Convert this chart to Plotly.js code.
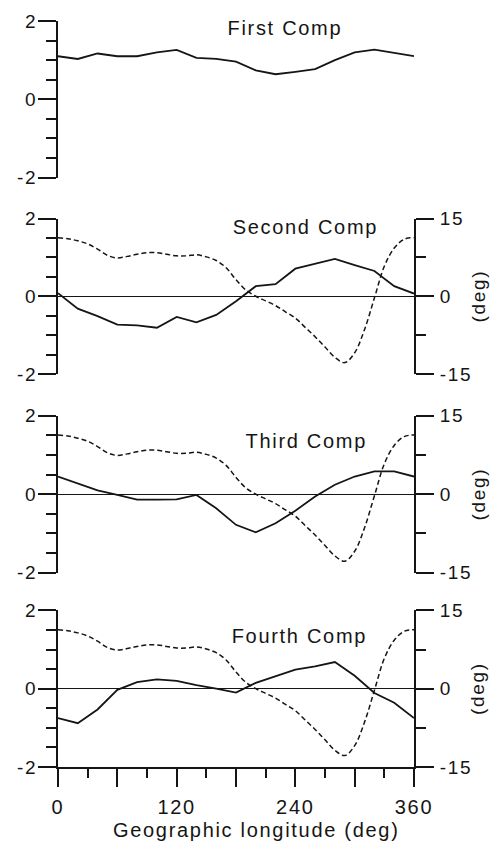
<!DOCTYPE html>
<html>
<head>
<meta charset="utf-8">
<script src="https://cdn.plot.ly/plotly-3.0.1.min.js"></script>
<style>
  html, body { margin: 0; padding: 0; background: #fff; }
  #chart { width: 490px; height: 848px; }
  #chart svg text { letter-spacing: 1.7px; }
</style>
</head>
<body>
<div id="chart"></div>
<script>
// Longitude grid of the component curves (deg)
const lon = [0, 20, 40, 60, 80, 100, 120, 140, 160, 180, 200, 220, 240, 260, 280, 300, 320, 340, 360];

// Component amplitudes (left axis)
const comp1 = [1.10, 1.03, 1.17, 1.10, 1.10, 1.20, 1.26, 1.06, 1.03, 0.96, 0.74, 0.64, 0.70, 0.77, 1.00, 1.20, 1.27, 1.18, 1.10];
const comp2 = [0.08, -0.32, -0.51, -0.73, -0.75, -0.81, -0.53, -0.67, -0.48, -0.13, 0.26, 0.31, 0.71, 0.84, 0.96, 0.80, 0.65, 0.26, 0.07];
const comp3 = [0.45, 0.28, 0.10, -0.02, -0.14, -0.14, -0.13, -0.02, -0.36, -0.78, -0.97, -0.74, -0.42, -0.06, 0.24, 0.45, 0.58, 0.58, 0.45];
const comp4 = [-0.75, -0.88, -0.53, -0.03, 0.17, 0.24, 0.20, 0.09, 0.00, -0.10, 0.15, 0.32, 0.49, 0.57, 0.68, 0.33, -0.11, -0.36, -0.75];

// Reference angle curve (right axis, deg) on a 10-degree grid
const lonFine = [0, 10, 20, 30, 40, 50, 60, 70, 80, 90, 100, 110, 120, 130, 140, 150, 160, 170, 180,
                 190, 200, 210, 220, 230, 240, 250, 260, 270, 280, 290, 300, 310, 320, 330, 340, 350, 360];
const angleDeg = [11.3, 11.1, 10.7, 10.1, 9.1, 7.9, 7.4, 7.7, 8.1, 8.4, 8.4, 8.1, 7.8, 7.8, 8.0, 7.6, 6.9, 5.5, 3.2,
                  1.2, 0.0, -0.9, -1.8, -3.0, -4.2, -6.0, -7.8, -9.8, -11.8, -12.8, -10.9, -6.4, -0.3, 5.8, 9.3, 11.0, 11.3];

// Tick labels
const panelTitles = ['First Comp', 'Second Comp', 'Third Comp', 'Fourth Comp'];
const xTickVals = [0, 60, 120, 180, 240, 300, 360];
const xTickText = ['0', '', '120', '', '240', '', '360'];
const xMinorVals = [30, 90, 150, 210, 270, 330];
const leftTickVals = [-2, 0, 2];
const leftTickText = ['-2', '0', '2'];
const rightTickVals = [-15, 0, 15];
const rightTickText = ['-15', '0', '15'];

const ink = '#151515';

const solid = (y, ya) => ({
  x: lon, y: y, xaxis: 'x', yaxis: ya, type: 'scatter', mode: 'lines',
  line: {color: ink, width: 1.8}, hoverinfo: 'skip'
});
const dashed = (ya) => ({
  x: lonFine, y: angleDeg, xaxis: 'x', yaxis: ya, type: 'scatter', mode: 'lines',
  line: {color: ink, width: 1.5, dash: '5px,3px', shape: 'spline', smoothing: 1}, hoverinfo: 'skip'
});

const data = [
  solid(comp1, 'y'),
  dashed('y5'), solid(comp2, 'y2'),
  dashed('y6'), solid(comp3, 'y3'),
  dashed('y7'), solid(comp4, 'y4')
];

const leftAxis = (domain, zero) => ({
  domain: domain, range: [-2, 2], anchor: 'x', side: 'left',
  tickmode: 'array', tickvals: leftTickVals, ticktext: leftTickText,
  ticks: 'outside', ticklen: 18, tickwidth: 2, tickcolor: ink,
  showline: true, linewidth: 2, linecolor: ink,
  minor: {tickmode: 'linear', tick0: 0, dtick: 0.5, ticks: 'outside', ticklen: 10, tickwidth: 2, tickcolor: ink},
  showgrid: false, zeroline: zero, zerolinecolor: ink, zerolinewidth: 1.3,
  ticklabelstandoff: -3, tickfont: {size: 19}
});
const rightAxis = (over) => ({
  overlaying: over, side: 'right', anchor: 'x', range: [-15, 15],
  tickmode: 'array', tickvals: rightTickVals, ticktext: rightTickText,
  ticks: 'outside', ticklen: 18, tickwidth: 2, tickcolor: ink,
  showline: true, linewidth: 2, linecolor: ink,
  minor: {tickmode: 'linear', tick0: 0, dtick: 7.5, ticks: 'outside', ticklen: 10, tickwidth: 2, tickcolor: ink},
  showgrid: false, zeroline: false,
  ticklabelstandoff: 2, tickfont: {size: 19}
});

const titleAnn = (text, x, y, yref) => ({
  text: text, x: x, y: y, xref: 'x', yref: yref, showarrow: false,
  xanchor: 'center', yanchor: 'middle', font: {size: 20, color: ink}
});
const degAnn = (yref) => ({
  text: '(deg)', x: 1.18, y: 0, xref: 'paper', yref: yref, showarrow: false,
  textangle: -90, xanchor: 'center', yanchor: 'middle', font: {size: 19, color: ink}
});

const layout = {
  width: 490, height: 848,
  margin: {l: 57.5, r: 75.5, t: 20.5, b: 80.5, pad: 0},
  paper_bgcolor: '#fff', plot_bgcolor: '#fff',
  showlegend: false,
  font: {family: '"Liberation Sans", Arial, Helvetica, sans-serif', size: 19, color: ink},
  xaxis: {
    domain: [0, 1], range: [0, 360], anchor: 'y4',
    tickmode: 'array', tickvals: xTickVals, ticktext: xTickText,
    ticks: 'outside', ticklen: 18, tickwidth: 2, tickcolor: ink,
    showline: true, linewidth: 2, linecolor: ink,
    minor: {tickmode: 'array', tickvals: xMinorVals, ticks: 'outside', ticklen: 9, tickwidth: 2, tickcolor: ink},
    showgrid: false, zeroline: false,
    ticklabelstandoff: 3, tickfont: {size: 20}
  },
  yaxis: leftAxis([0.7901, 1.0], false),
  yaxis2: leftAxis([0.5268, 0.7352], true),
  yaxis3: leftAxis([0.2604, 0.4710], true),
  yaxis4: leftAxis([0.0, 0.2099], true),
  yaxis5: rightAxis('y2'),
  yaxis6: rightAxis('y3'),
  yaxis7: rightAxis('y4'),
  annotations: [
    titleAnn(panelTitles[0], 230, 1.81, 'y'),
    titleAnn(panelTitles[1], 250.6, 1.78, 'y2'),
    titleAnn(panelTitles[2], 251, 1.36, 'y3'),
    titleAnn(panelTitles[3], 244.5, 1.34, 'y4'),
    degAnn('y2'), degAnn('y3'), degAnn('y4'),
    {
      text: 'Geographic longitude (deg)', x: 0.556, y: -0.085, xref: 'paper', yref: 'paper',
      showarrow: false, xanchor: 'center', yanchor: 'middle', font: {size: 20, color: ink}
    }
  ]
};

Plotly.newPlot('chart', data, layout, {staticPlot: true, displayModeBar: false});
</script>
</body>
</html>
